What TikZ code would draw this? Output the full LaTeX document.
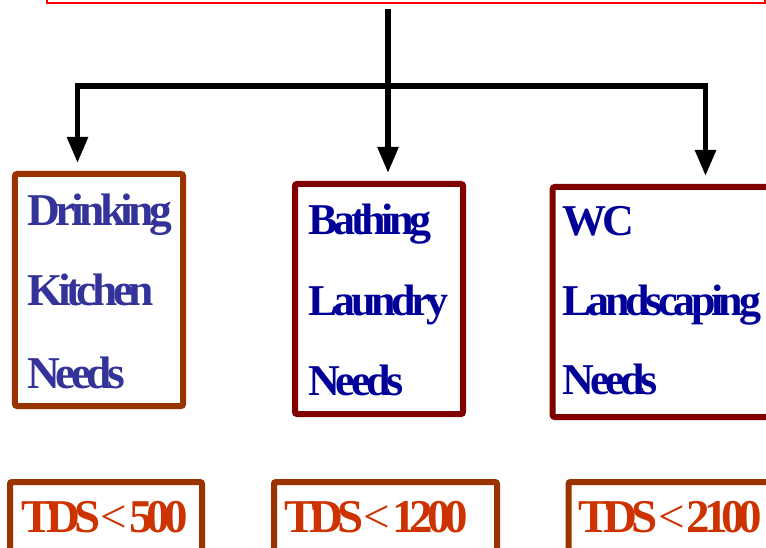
\documentclass[tikz,border=0pt]{standalone}
\usepackage{fontspec}
\usetikzlibrary{arrows.meta}
\newfontfamily\tnr{Liberation Serif}[LetterSpace=-10]
\newfontfamily\tnrtight{Liberation Serif}[LetterSpace=-13]
\definecolor{boxbrown}{HTML}{993300}
\definecolor{boxred}{HTML}{800000}
\definecolor{txtslate}{HTML}{333399}
\definecolor{txtnavy}{HTML}{000099}
\definecolor{txtorange}{HTML}{CC3300}
\newcommand{\lessgap}{\hspace{0.5bp}{\mdseries<}\hspace{2bp}}
\tikzset{
  frame/.style={draw, line width=6bp, rounded corners=2bp, inner sep=0pt, fill=white},
  need/.style={anchor=base west, inner sep=0pt, font=\tnr\bfseries\fontsize{44bp}{50bp}\selectfont},
  needbig/.style={need, font=\tnr\bfseries\fontsize{45.5bp}{50bp}\selectfont},
  tds/.style={anchor=base west, inner sep=0pt, font=\tnrtight\bfseries\fontsize{47bp}{52bp}\selectfont, text=txtorange},
  conn/.style={line width=5.5bp, black},
  arr/.style={conn, -{Triangle[width=20bp,length=26bp]}, shorten >=8bp},
}
\begin{document}
\begin{tikzpicture}[x=1bp,y=-1bp]
\useasboundingbox (0,0) rectangle (766,548);
\clip (0,0) rectangle (766,548);
% top red box (cut off by the top edge)
\node[draw=red, line width=2bp, inner sep=0pt, minimum width=718bp, minimum height=60bp, anchor=south west] (top) at (46,4) {};
% boxes
\node[frame, draw=boxbrown, minimum width=168bp, minimum height=232bp] (b1) at (99,290) {};
\node[frame, draw=boxred, minimum width=168bp, minimum height=230bp] (b2) at (379,299) {};
\node[frame, draw=boxred, minimum width=300bp, minimum height=230bp, anchor=north west] (b3) at (549.7,184) {};
\node[frame, draw=boxbrown, minimum width=192bp, minimum height=120bp, anchor=north west] (t1) at (7,479) {};
\node[frame, draw=boxbrown, minimum width=223bp, minimum height=120bp, anchor=north west] (t2) at (271,479) {};
\node[frame, draw=boxbrown, minimum width=300bp, minimum height=120bp, anchor=north west] (t3) at (565.5,479) {};
% texts
\node[needbig, text=txtslate] (d1) at (27,225.3) {Drinking};
\node[needbig, text=txtslate] (d2) at (27,305.7) {Kitchen};
\node[needbig, text=txtslate] (d3) at (27,388.3) {Needs};
\node[need, text=txtnavy] (e1) at (308.3,235) {Bathing};
\node[need, text=txtnavy] (e2) at (308.3,315.7) {Laundry};
\node[need, text=txtnavy] (e3) at (308.3,395.7) {Needs};
\node[need, text=txtnavy] (f1) at (562.7,235.5) {WC};
\node[need, text=txtnavy] (f2) at (562.7,315.7) {Landscaping};
\node[need, text=txtnavy] (f3) at (562.7,394.3) {Needs};
\node[tds] (g1) at (21,532.7) {TDS\lessgap500};
\node[tds] (g2) at (284,532.7) {TDS\lessgap1200};
\node[tds] (g3) at (578.3,532.7) {TDS\lessgap2100};
% connectors
\coordinate (src) at (388,9);
\coordinate (hub) at (388,86);
\coordinate (L) at (77.5,86);
\coordinate (R) at (705.5,86);
\draw[conn] (src) -- (hub);
\draw[conn, line cap=rect] (L) -- (R);
\draw[arr] (L) -- (L |- b1.north);
\draw[arr] (hub) -- (hub |- b2.north);
\draw[arr] (R) -- (R |- b3.north);
\end{tikzpicture}
\end{document}
